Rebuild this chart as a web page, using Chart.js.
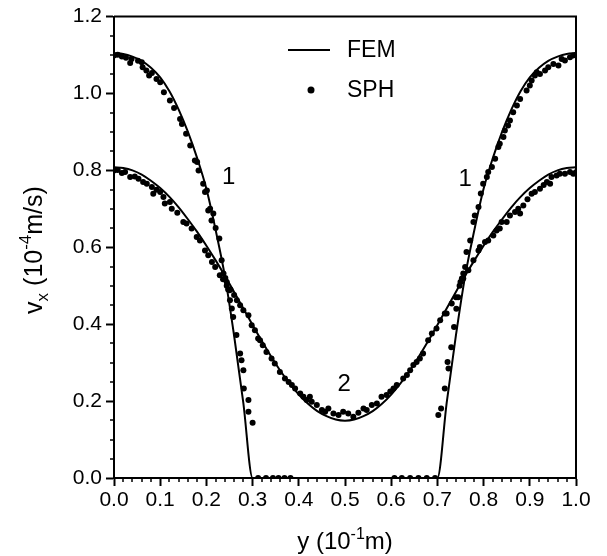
<!DOCTYPE html>
<html>
<head>
<meta charset="utf-8">
<script src="https://cdn.jsdelivr.net/npm/chart.js@4.4.1/dist/chart.umd.min.js"></script>
<style>
  html, body { margin: 0; padding: 0; background: #fff; }
  #wrap { width: 607px; height: 556px; }
</style>
</head>
<body>
<div id="wrap"><canvas id="chart" width="607" height="556"></canvas></div>
<script>
// FEM solution, curve 1 (position y, velocity vx)
const fem1Y = [0.00, 0.02, 0.04, 0.06, 0.08, 0.10, 0.12, 0.14, 0.16, 0.18, 0.20, 0.22, 0.24, 0.26, 0.28, 0.30,
               0.70, 0.72, 0.74, 0.76, 0.78, 0.80, 0.82, 0.84, 0.86, 0.88, 0.90, 0.92, 0.94, 0.96, 0.98, 1.00];
const fem1V = [1.105, 1.103, 1.096, 1.085, 1.067, 1.042, 1.006, 0.958, 0.900, 0.832, 0.752, 0.645, 0.525, 0.370, 0.195, 0.000,
               0.000, 0.195, 0.370, 0.525, 0.645, 0.752, 0.832, 0.900, 0.958, 1.006, 1.042, 1.067, 1.085, 1.096, 1.103, 1.105];

// FEM solution, curve 2
const fem2Y = [0.00, 0.02, 0.04, 0.06, 0.08, 0.10, 0.12, 0.14, 0.16, 0.18, 0.20, 0.22, 0.24, 0.26, 0.28, 0.30, 0.32,
               0.34, 0.36, 0.38, 0.40, 0.42, 0.44, 0.46, 0.48, 0.50, 0.52, 0.54, 0.56, 0.58, 0.60, 0.62, 0.64, 0.66,
               0.68, 0.70, 0.72, 0.74, 0.76, 0.78, 0.80, 0.82, 0.84, 0.86, 0.88, 0.90, 0.92, 0.94, 0.96, 0.98, 1.00];
const fem2V = [0.808, 0.806, 0.800, 0.789, 0.773, 0.754, 0.731, 0.704, 0.673, 0.640, 0.604, 0.566, 0.526, 0.484, 0.441, 0.398, 0.356,
               0.316, 0.279, 0.246, 0.217, 0.193, 0.174, 0.161, 0.152, 0.149, 0.152, 0.161, 0.174, 0.193, 0.217, 0.246, 0.279, 0.316,
               0.356, 0.398, 0.441, 0.484, 0.526, 0.566, 0.604, 0.640, 0.673, 0.704, 0.731, 0.754, 0.773, 0.789, 0.800, 0.806, 0.808];

// SPH particles, curve 1 [y, vx]
const sph1 = [
  [0.000,1.099],[0.008,1.101],[0.017,1.096],[0.026,1.093],[0.035,1.079],[0.038,1.090],[0.052,1.085],[0.060,1.081],
  [0.062,1.068],[0.070,1.060],[0.076,1.047],[0.082,1.053],[0.092,1.038],[0.100,1.029],[0.108,1.003],[0.121,0.982],
  [0.130,0.962],[0.143,0.934],[0.147,0.921],[0.156,0.895],[0.165,0.865],[0.175,0.826],[0.180,0.822],[0.183,0.800],
  [0.193,0.765],[0.197,0.744],[0.201,0.748],[0.204,0.696],[0.208,0.700],[0.211,0.670],[0.215,0.688],[0.220,0.650],
  [0.228,0.623],[0.233,0.566],[0.237,0.532],[0.241,0.520],[0.244,0.510],[0.247,0.490],[0.250,0.488],[0.251,0.462],
  [0.255,0.441],[0.258,0.419],[0.265,0.372],[0.273,0.324],[0.276,0.306],[0.280,0.280],[0.281,0.233],[0.291,0.203],
  [0.291,0.172],[0.300,0.144],
  [0.312,0],[0.329,0],[0.344,0],[0.356,0],[0.369,0],[0.382,0],
  [0.607,0],[0.623,0],[0.641,0],[0.659,0],[0.677,0],[0.695,0],
  [0.702,0.164],[0.708,0.181],[0.716,0.233],[0.722,0.302],[0.724,0.285],[0.730,0.340],[0.736,0.393],[0.741,0.440],
  [0.745,0.470],[0.750,0.510],[0.753,0.519],[0.756,0.532],[0.760,0.549],[0.763,0.588],[0.771,0.618],[0.778,0.666],
  [0.781,0.683],[0.789,0.705],[0.794,0.740],[0.799,0.765],[0.807,0.783],[0.810,0.796],[0.818,0.809],[0.825,0.830],
  [0.832,0.861],[0.835,0.869],[0.843,0.887],[0.846,0.904],[0.853,0.917],[0.857,0.930],[0.864,0.951],[0.872,0.969],
  [0.879,0.986],[0.893,1.008],[0.900,1.021],[0.904,1.034],[0.911,1.047],[0.915,1.055],[0.922,1.051],[0.933,1.060],
  [0.940,1.068],[0.951,1.077],[0.962,1.073],[0.969,1.090],[0.976,1.086],[0.987,1.094],[0.994,1.099],[1.000,1.101]
];

// SPH particles, curve 2 [y, vx]
const sph2 = [
  [0.000,0.800],[0.008,0.801],[0.017,0.793],[0.024,0.796],[0.035,0.783],[0.045,0.784],[0.053,0.778],[0.063,0.770],
  [0.071,0.765],[0.082,0.757],[0.085,0.739],[0.092,0.750],[0.100,0.744],[0.107,0.731],[0.110,0.714],[0.121,0.718],
  [0.125,0.700],[0.137,0.690],[0.150,0.666],[0.157,0.662],[0.168,0.649],[0.179,0.627],[0.186,0.618],[0.197,0.592],
  [0.204,0.579],[0.212,0.562],[0.219,0.549],[0.229,0.527],[0.236,0.517],[0.244,0.500],[0.252,0.490],[0.260,0.476],
  [0.266,0.462],[0.273,0.449],[0.280,0.436],[0.291,0.423],[0.298,0.397],[0.305,0.384],[0.312,0.363],[0.316,0.358],
  [0.322,0.345],[0.330,0.328],[0.341,0.311],[0.348,0.298],[0.359,0.276],[0.370,0.259],[0.378,0.250],[0.385,0.242],
  [0.392,0.233],[0.403,0.220],[0.410,0.211],[0.417,0.203],[0.424,0.211],[0.428,0.198],[0.439,0.190],[0.450,0.177],
  [0.457,0.172],[0.464,0.181],[0.475,0.168],[0.486,0.164],[0.496,0.172],[0.507,0.168],[0.518,0.159],[0.529,0.170],
  [0.540,0.181],[0.547,0.177],[0.558,0.190],[0.569,0.194],[0.579,0.211],[0.590,0.216],[0.598,0.225],[0.605,0.233],
  [0.612,0.242],[0.626,0.259],[0.634,0.268],[0.641,0.280],[0.648,0.294],[0.655,0.302],[0.662,0.311],[0.669,0.324],
  [0.680,0.358],[0.688,0.376],[0.698,0.389],[0.706,0.410],[0.716,0.428],[0.720,0.428],[0.731,0.454],[0.740,0.470],
  [0.748,0.500],[0.756,0.519],[0.767,0.540],[0.778,0.566],[0.789,0.592],[0.792,0.601],[0.803,0.614],[0.810,0.618],
  [0.821,0.631],[0.828,0.644],[0.835,0.649],[0.839,0.666],[0.850,0.666],[0.857,0.683],[0.868,0.692],[0.875,0.700],
  [0.879,0.688],[0.886,0.709],[0.895,0.725],[0.904,0.739],[0.911,0.744],[0.922,0.752],[0.930,0.762],[0.937,0.770],
  [0.944,0.765],[0.947,0.783],[0.958,0.787],[0.965,0.791],[0.976,0.791],[0.987,0.796],[0.994,0.791],[1.000,0.795]
];

// curve numbers, placed in data coordinates
const curveLabels = [
  { text: '1', y: 0.248, v: 0.783 },
  { text: '1', y: 0.760, v: 0.777 },
  { text: '2', y: 0.498, v: 0.244 }
];

const FONT = '"Liberation Sans", Arial, Helvetica, sans-serif';

function toPoints(xs, ys) {
    return xs.map((x, i) => ({ x: x, y: ys[i] }));
}

function drawRich(ctx, parts, x, y) {
    let total = 0;
    parts.forEach(p => {
        ctx.font = p.size + 'px ' + FONT;
        p.w = ctx.measureText(p.t).width;
        total += p.w;
    });
    let cx = x - total / 2;
    ctx.textAlign = 'left';
    ctx.textBaseline = 'alphabetic';
    parts.forEach(p => {
        ctx.font = p.size + 'px ' + FONT;
        ctx.fillText(p.t, cx, y + (p.dy || 0));
        cx += p.w;
    });
}

// frame, minor ticks, axis titles, legend and curve numbers
const framePlugin = {
    id: 'frame',
    afterDraw(chart) {
        const ctx = chart.ctx;
        const a = chart.chartArea;
        const xs = chart.scales.x, ys = chart.scales.y;
        ctx.save();
        ctx.strokeStyle = '#000';
        ctx.fillStyle = '#000';
        ctx.lineWidth = 2;

        // top and right edges
        ctx.beginPath();
        ctx.moveTo(a.left, a.top);
        ctx.lineTo(a.right, a.top);
        ctx.lineTo(a.right, a.bottom);
        ctx.stroke();

        // minor ticks
        ctx.lineWidth = 1.5;
        ctx.beginPath();
        for (let i = 0; i <= 50; i++) {
            if (i % 5 === 0) continue;
            const px = Math.round(xs.getPixelForValue(i * 0.02));
            ctx.moveTo(px, a.bottom);
            ctx.lineTo(px, a.bottom + 4);
        }
        for (let i = 0; i <= 24; i++) {
            if (i % 4 === 0) continue;
            const py = Math.round(ys.getPixelForValue(i * 0.05));
            ctx.moveTo(a.left - 4, py);
            ctx.lineTo(a.left, py);
        }
        ctx.stroke();

        // axis titles
        drawRich(ctx, [
            { t: 'y (10', size: 24 },
            { t: '-1', size: 16, dy: -10 },
            { t: 'm)', size: 24 }
        ], (a.left + a.right) / 2, 549);

        ctx.save();
        ctx.translate(42, 250);
        ctx.rotate(-Math.PI / 2);
        drawRich(ctx, [
            { t: 'v', size: 25 },
            { t: 'x', size: 17, dy: 6 },
            { t: ' (10', size: 25 },
            { t: '-4', size: 17, dy: -11 },
            { t: 'm/s)', size: 25 }
        ], 0, 0);
        ctx.restore();

        // legend
        ctx.lineWidth = 2;
        ctx.beginPath();
        ctx.moveTo(288, 50);
        ctx.lineTo(330, 50);
        ctx.stroke();
        ctx.beginPath();
        ctx.arc(311, 90, 3.5, 0, Math.PI * 2);
        ctx.fill();
        ctx.font = '23px ' + FONT;
        ctx.textAlign = 'left';
        ctx.textBaseline = 'middle';
        ctx.fillText('FEM', 347, 51);
        ctx.fillText('SPH', 347, 91);

        // curve numbers
        ctx.textAlign = 'center';
        ctx.font = '24px ' + FONT;
        curveLabels.forEach(l => {
            ctx.fillText(l.text, xs.getPixelForValue(l.y), ys.getPixelForValue(l.v));
        });
        ctx.restore();
    }
};

const ctx = document.getElementById('chart').getContext('2d');
new Chart(ctx, {
    type: 'scatter',
    data: {
        datasets: [
            {
                label: 'SPH 1',
                data: sph1.map(p => ({ x: p[0], y: p[1] })),
                backgroundColor: '#000',
                borderWidth: 0,
                pointRadius: 3,
                order: 0
            },
            {
                label: 'SPH 2',
                data: sph2.map(p => ({ x: p[0], y: p[1] })),
                backgroundColor: '#000',
                borderWidth: 0,
                pointRadius: 3,
                order: 0
            },
            {
                label: 'FEM 1',
                data: toPoints(fem1Y, fem1V),
                showLine: true,
                borderColor: '#000',
                borderWidth: 2,
                pointRadius: 0,
                cubicInterpolationMode: 'monotone',
                order: 1
            },
            {
                label: 'FEM 2',
                data: toPoints(fem2Y, fem2V),
                showLine: true,
                borderColor: '#000',
                borderWidth: 2,
                pointRadius: 0,
                cubicInterpolationMode: 'monotone',
                order: 1
            }
        ]
    },
    options: {
        responsive: false,
        animation: false,
        layout: { padding: { left: 0, right: 31, top: 16, bottom: 0 } },
        plugins: {
            legend: { display: false },
            tooltip: { enabled: false }
        },
        scales: {
            x: {
                type: 'linear',
                min: 0,
                max: 1,
                ticks: {
                    stepSize: 0.1,
                    color: '#000',
                    font: { family: FONT, size: 21 },
                    padding: 2,
                    maxRotation: 0,
                    autoSkip: false,
                    callback: v => v.toFixed(1)
                },
                grid: { display: true, drawOnChartArea: false, drawTicks: true, tickLength: 8, tickWidth: 2, tickColor: '#000' },
                border: { display: true, color: '#000', width: 2 },
                afterFit: s => { s.height = 78; }
            },
            y: {
                type: 'linear',
                min: 0,
                max: 1.2,
                ticks: {
                    stepSize: 0.2,
                    color: '#000',
                    font: { family: FONT, size: 21 },
                    padding: 4,
                    callback: v => v.toFixed(1)
                },
                grid: { display: true, drawOnChartArea: false, drawTicks: true, tickLength: 8, tickWidth: 2, tickColor: '#000' },
                border: { display: true, color: '#000', width: 2 },
                afterFit: s => { s.width = 114; }
            }
        }
    },
    plugins: [framePlugin]
});
</script>
</body>
</html>
